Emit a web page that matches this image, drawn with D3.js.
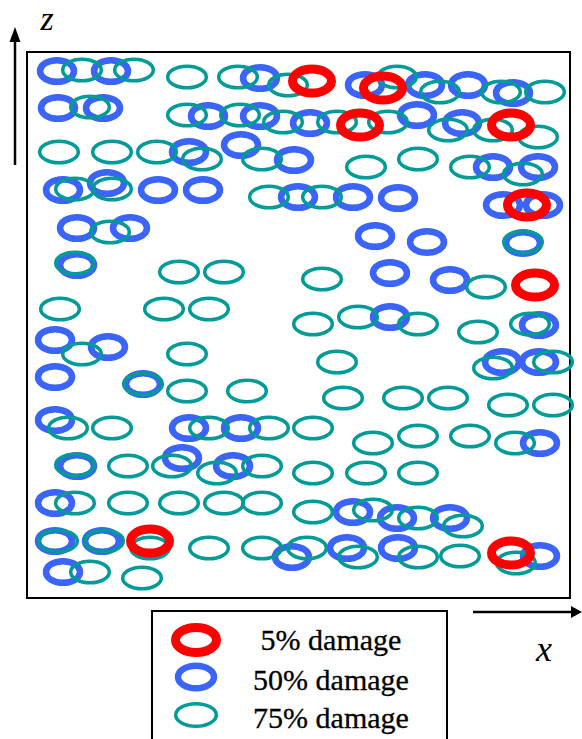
<!DOCTYPE html>
<html>
<head>
<meta charset="utf-8">
<script src="https://cdn.jsdelivr.net/npm/d3@7"></script>
<style>
  body { margin: 0; background: #fff; }
  svg { display: block; }
</style>
</head>
<body>
<svg id="chart" width="582" height="739"></svg>
<script>
// crack positions [x, z] in specimen units
var damage5 = [
    [28.5, 51.7], [35.6, 51.0], [33.3, 47.3], [48.4, 47.3], [50.0, 39.3],
    [50.8, 31.3], [12.3, 5.7], [48.4, 4.5]
];

var damage50 = [
    [3.0, 52.7], [8.4, 52.7], [23.3, 52.0], [33.8, 51.3], [39.8, 51.3], [44.1, 51.3], [48.6, 50.5],
    [3.1, 49.0], [7.6, 49.0], [18.1, 48.2], [23.3, 48.2], [28.3, 47.5], [39.0, 48.3], [43.5, 47.5],
    [16.2, 44.6], [21.4, 45.3], [26.7, 43.8], [46.6, 43.1], [51.1, 43.1],
    [3.6, 40.8], [8.0, 41.5], [13.1, 40.8], [17.6, 40.8], [27.1, 40.1], [32.6, 40.1], [37.1, 40.0],
    [47.6, 39.3], [51.6, 39.3],
    [5.0, 37.0], [10.3, 37.0], [34.8, 36.2], [40.0, 35.6], [49.6, 35.5],
    [5.0, 33.3], [36.3, 32.5], [42.3, 31.8],
    [36.3, 28.1], [51.2, 27.3],
    [2.8, 25.8], [8.1, 25.1], [47.5, 23.6], [51.2, 23.6],
    [2.8, 22.1], [11.6, 21.4],
    [2.8, 17.8], [16.2, 17.0], [21.4, 17.0], [51.3, 15.5],
    [5.0, 13.2], [15.5, 14.0], [20.6, 13.2],
    [2.8, 9.5], [32.6, 8.6], [37.0, 8.0], [42.3, 8.0],
    [2.8, 5.7], [7.5, 5.7], [26.5, 4.1], [32.0, 5.0], [37.1, 5.0], [51.3, 4.2],
    [3.6, 2.6]
];

var damage75 = [
    [5.5, 52.8], [10.7, 52.8], [16.0, 52.1], [21.1, 52.1], [26.1, 51.3], [37.0, 52.1], [41.3, 50.6],
    [47.4, 50.6], [51.8, 50.6],
    [6.3, 49.1], [16.0, 48.3], [21.3, 48.3], [25.6, 47.6], [31.0, 47.6], [36.1, 47.6], [42.1, 46.8],
    [46.6, 46.8], [51.1, 46.1],
    [3.2, 44.6], [8.5, 44.6], [13.0, 44.6], [17.5, 43.9], [23.5, 43.9], [33.9, 43.1], [39.1, 43.9],
    [44.3, 43.1], [49.6, 42.4],
    [4.8, 40.9], [8.5, 40.9], [24.2, 40.1], [29.5, 40.1],
    [8.3, 36.6], [49.6, 35.6],
    [4.8, 33.5], [15.2, 32.6], [19.7, 32.6], [29.5, 31.9], [45.9, 31.1],
    [3.3, 28.9], [13.7, 28.9], [18.2, 28.9], [28.6, 27.4], [33.1, 28.1], [39.1, 27.4], [45.1, 26.6],
    [50.3, 27.4],
    [5.5, 24.4], [16.0, 24.4], [31.0, 23.6], [46.6, 23.0], [52.6, 23.6],
    [11.6, 21.4], [16.0, 20.7], [22.0, 20.7],
    [31.6, 20.0], [37.6, 20.0], [42.1, 20.0], [48.1, 19.3], [52.6, 19.3],
    [4.1, 17.0], [8.5, 17.0], [18.2, 17.0], [24.2, 17.0], [28.6, 17.0], [34.6, 15.5], [39.1, 16.2],
    [44.3, 16.2], [48.8, 15.5],
    [4.8, 13.3], [10.1, 13.2], [14.5, 13.2], [19.0, 12.5], [23.5, 13.2], [28.6, 12.5], [33.9, 12.5],
    [39.1, 12.5],
    [4.8, 9.5], [10.1, 9.5], [15.2, 9.5], [19.7, 9.5], [23.5, 9.5], [28.6, 8.6], [34.6, 8.8],
    [39.1, 8.0], [43.6, 7.2],
    [3.1, 5.7], [7.7, 5.7], [12.3, 5.0], [18.2, 5.0], [23.5, 5.0], [28.0, 5.0], [33.1, 4.1],
    [39.1, 4.1], [43.3, 4.2], [48.9, 3.5],
    [6.3, 2.6], [11.5, 2.0]
];

var legendLabels = ["5% damage", "50% damage", "75% damage"];

// look of each damage level
var styles = [
    { color: "#ff0000", rx: 19.5, ry: 12, width: 9 },
    { color: "#3a64fa", rx: 17, ry: 10.8, width: 6.5 },
    { color: "#009b96", rx: 19.3, ry: 10.8, width: 3.5 }
];

var serif = "Times New Roman, Liberation Serif, DejaVu Serif, serif";

var svg = d3.select("#chart");
var plot = { left: 27, top: 52, right: 570, bottom: 598 };

var x = d3.scaleLinear().domain([0, 54.3]).range([plot.left, plot.right]);
var z = d3.scaleLinear().domain([0, 54.6]).range([plot.bottom, plot.top]);

// frame
svg.append("rect")
    .attr("x", plot.left)
    .attr("y", plot.top)
    .attr("width", plot.right - plot.left)
    .attr("height", plot.bottom - plot.top)
    .attr("fill", "none")
    .attr("stroke", "#000")
    .attr("stroke-width", 2);

function drawSet(data, st, cls) {
    svg.append("g").attr("class", cls)
        .selectAll("ellipse")
        .data(data)
        .enter().append("ellipse")
        .attr("cx", d => x(d[0]))
        .attr("cy", d => z(d[1]))
        .attr("rx", st.rx)
        .attr("ry", st.ry)
        .attr("fill", "none")
        .attr("stroke", st.color)
        .attr("stroke-width", st.width);
}

// blue first, then teal, red on top
drawSet(damage50, styles[1], "d50");
drawSet(damage75, styles[2], "d75");
drawSet(damage5, styles[0], "d5");

// axis arrows
svg.append("line")
    .attr("x1", 15).attr("y1", 165).attr("x2", 15).attr("y2", 38)
    .attr("stroke", "#000").attr("stroke-width", 2.5);
svg.append("path")
    .attr("d", "M15,27 L9.5,42 L20.5,42 Z")
    .attr("fill", "#000");

svg.append("line")
    .attr("x1", 473).attr("y1", 612).attr("x2", 573).attr("y2", 612)
    .attr("stroke", "#000").attr("stroke-width", 2.5);
svg.append("path")
    .attr("d", "M582,612 L571,606 L571,618 Z")
    .attr("fill", "#000");

svg.append("text")
    .attr("x", 47).attr("y", 30)
    .attr("text-anchor", "middle")
    .attr("font-family", serif)
    .attr("font-style", "italic")
    .attr("font-size", 34)
    .text("z");

svg.append("text")
    .attr("x", 544).attr("y", 661)
    .attr("text-anchor", "middle")
    .attr("font-family", serif)
    .attr("font-style", "italic")
    .attr("font-size", 36)
    .text("x");

// legend
svg.append("rect")
    .attr("x", 152).attr("y", 611)
    .attr("width", 295).attr("height", 140)
    .attr("fill", "#fff")
    .attr("stroke", "#000")
    .attr("stroke-width", 2);

var legendY = [640, 677, 715];
var legendBase = [650, 690, 728];

var legend = svg.append("g").attr("class", "legend")
    .selectAll("g")
    .data(legendLabels)
    .enter().append("g");

legend.append("ellipse")
    .attr("cx", 196)
    .attr("cy", (d, i) => legendY[i])
    .attr("rx", (d, i) => styles[i].rx + 1)
    .attr("ry", (d, i) => styles[i].ry + 0.5)
    .attr("fill", "none")
    .attr("stroke", (d, i) => styles[i].color)
    .attr("stroke-width", (d, i) => styles[i].width);

legend.append("text")
    .attr("x", 331)
    .attr("y", (d, i) => legendBase[i])
    .attr("text-anchor", "middle")
    .attr("font-family", serif)
    .attr("font-size", 30)
    .attr("stroke", "#000")
    .attr("stroke-width", 0.3)
    .text(d => d);
</script>
</body>
</html>
